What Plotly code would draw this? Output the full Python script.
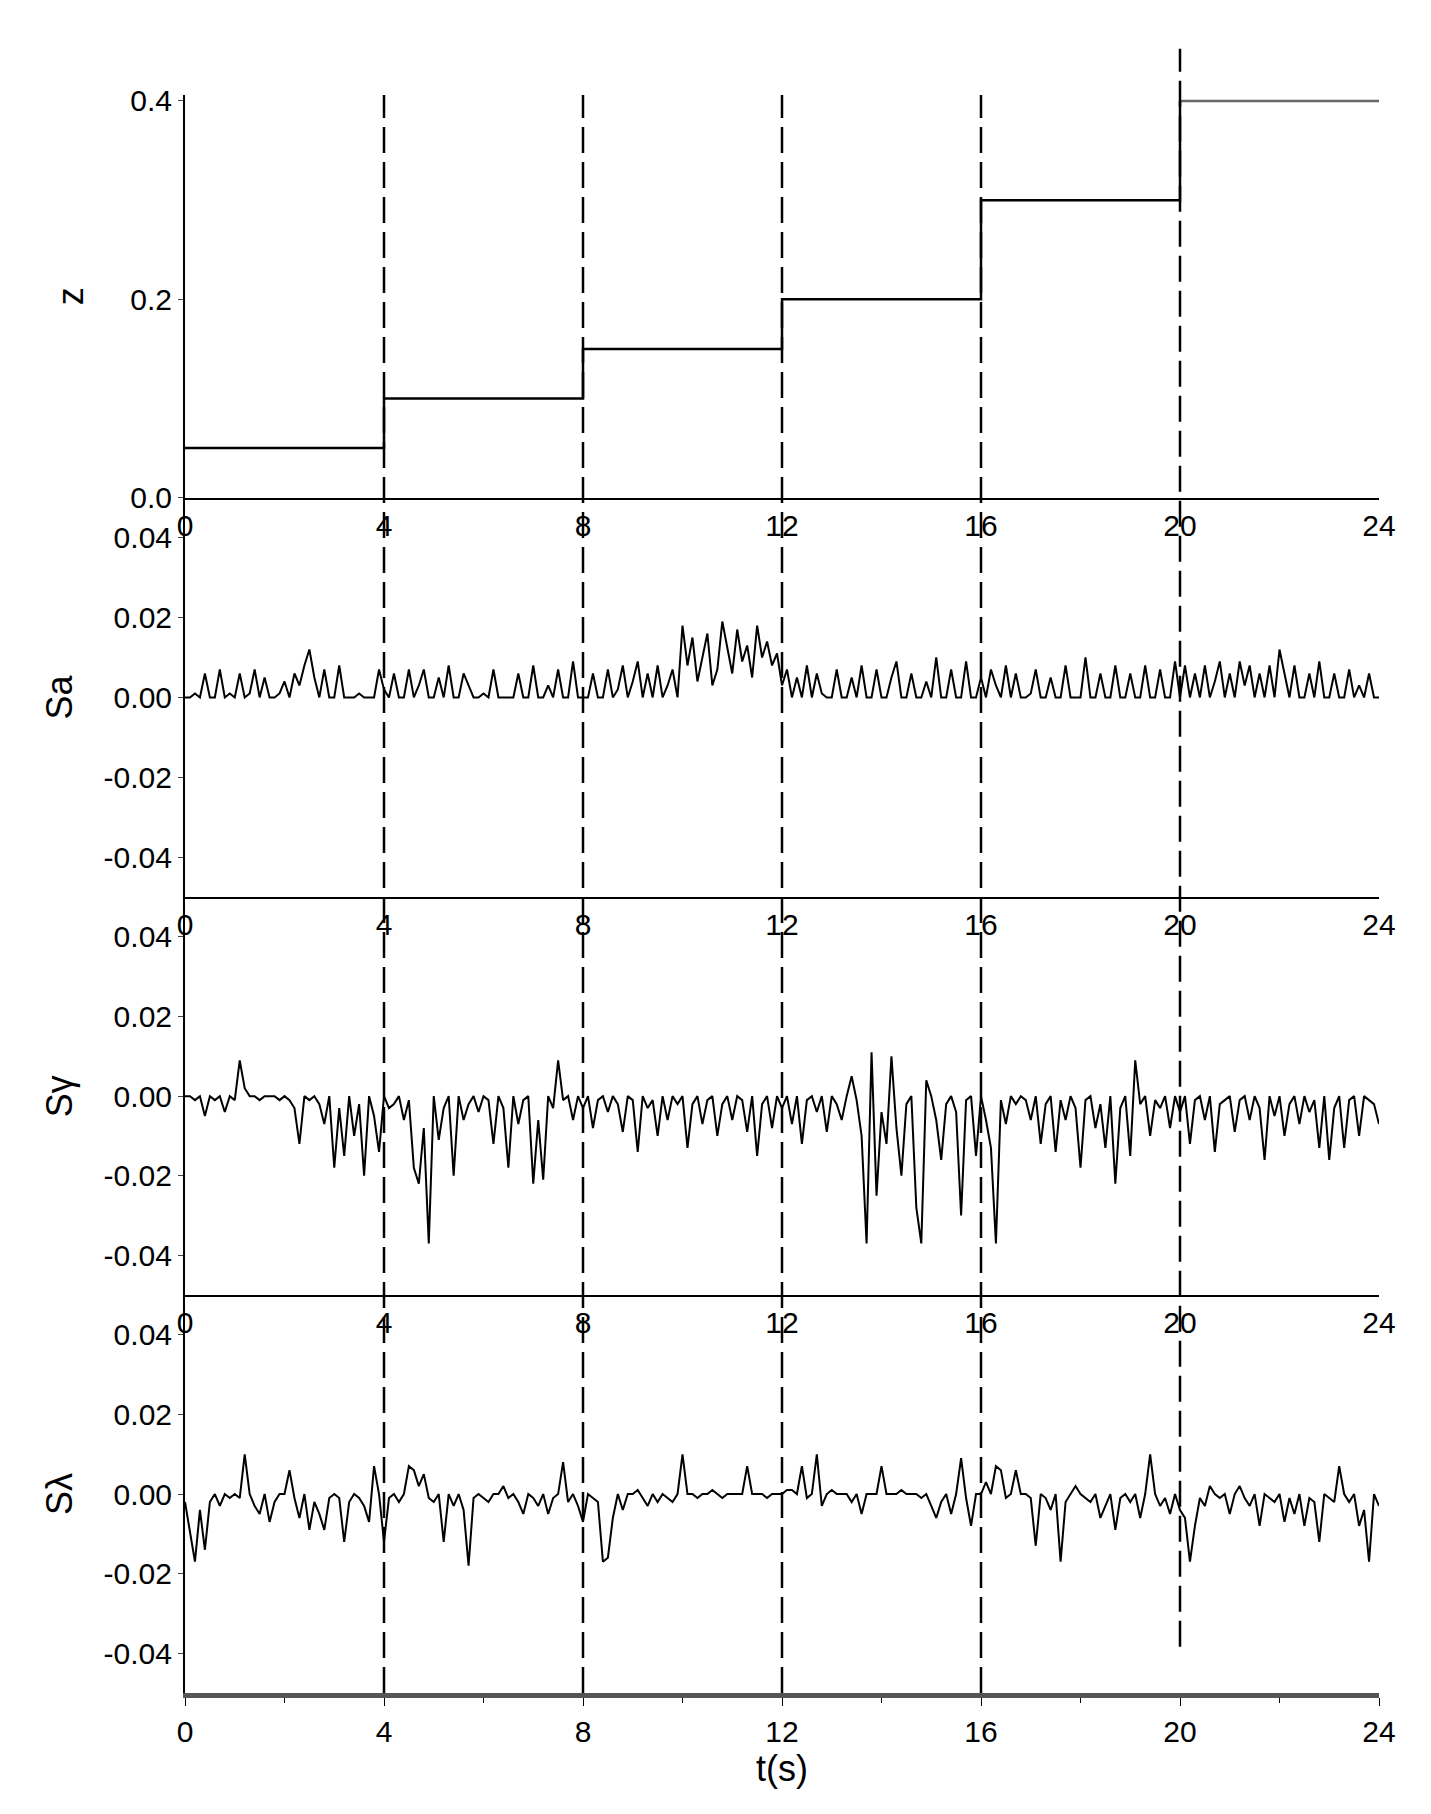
import plotly.graph_objects as go

step_t = [0, 4, 8, 12, 16, 20, 24]
z_vals = [0.05, 0.10, 0.15, 0.20, 0.30, 0.40, 0.40]

sa_milli = [
0,0,1,0,6,0,0,7,0,1, 0,6,0,1,7,0,5,0,0,1, 4,0,6,3,8,12,5,0,7,0, 0,8,0,0,0,1,0,0,0,7,
2,0,6,0,0,7,0,3,7,0, 0,5,0,8,0,0,6,3,0,0, 1,0,7,0,0,0,0,6,0,0, 8,0,0,3,0,7,0,0,9,0,
0,0,6,0,0,7,0,2,8,0, 4,9,0,6,0,8,0,3,7,0, 18,8,15,4,10,16,3,7,19,12, 6,17,9,13,5,18,10,14,8,11,
3,7,0,5,0,8,0,6,1,0, 0,7,0,0,5,0,8,0,0,7, 0,0,5,9,0,0,6,0,0,4, 0,10,0,0,7,0,0,9,0,0,
5,0,7,3,0,8,0,6,0,0, 1,7,0,0,5,0,0,8,0,0, 0,10,0,0,6,0,0,8,0,0, 6,0,0,8,0,0,7,0,0,9,
0,8,0,6,0,8,0,4,9,0, 6,0,9,3,8,0,6,0,8,0, 12,6,0,8,0,0,6,0,9,0, 0,6,0,0,7,0,3,0,6,0, 0]

sg_milli = [
0,0,-1,0,-5,0,-1,0,-4,0, -1,9,2,0,0,-1,0,0,0,-1, 0,-1,-3,-12,0,-1,0,-2,-7,0, -18,-3,-15,0,-10,-2,-20,0,-5,-14,
0,-3,-2,0,-6,-1,-18,-22,-8,-37, 0,-11,-3,0,-20,0,-6,-2,0,-4, 0,-1,-12,0,-3,-18,0,-7,-1,0, -22,-6,-21,0,-3,9,-1,0,-6,0,
-3,0,-8,-1,0,-4,0,-2,-9,0, -1,-14,0,-3,-1,-10,0,-6,0,-2, 0,-13,-2,0,-7,-1,0,-10,-2,0, -6,0,-1,-9,0,-15,-2,0,-8,0,
-3,0,-7,0,-12,-1,0,-4,0,-9, 0,-2,-6,0,5,-1,-10,-37,11,-25, -4,-12,10,-8,-20,-2,0,-28,-37,4, 0,-6,-16,-2,0,-4,-30,-1,0,-15,
0,-6,-13,-37,-1,-7,0,-2,0,-1, -6,0,-12,-2,0,-14,-1,-6,0,-3, -18,-1,0,-8,-2,-13,0,-22,-3,0, -15,9,-2,0,-10,-1,-3,0,-8,0,
-4,0,-12,-1,0,-6,0,-14,-2,-1, 0,-9,-1,0,-6,0,-3,-16,0,-5, 0,-10,-2,0,-7,0,-4,-1,-13,0, -16,-3,0,-13,-1,0,-10,0,-1,-2, -7]

sl_milli = [
-2,-10,-17,-4,-14,-2,0,-3,0,-1, 0,-1,10,0,-3,-5,0,-7,-2,0, 0,6,-1,-6,0,-9,-2,-5,-9,-1, 0,-1,-12,-2,0,-1,-3,-7,7,0,
-12,-1,0,-2,0,7,6,2,5,-1, -2,0,-12,0,-3,0,-4,-18,-1,0, -1,-2,0,0,2,-1,0,-2,-5,0, -1,-3,0,-5,-1,0,8,-2,0,-3,
-7,0,-1,-2,-17,-16,-6,0,-4,0, 0,1,-1,-3,0,-2,0,-1,-2,0, 10,0,0,-1,0,0,1,0,-1,0, 0,0,0,7,0,0,0,-1,0,0,
0,1,1,0,7,-1,0,10,-3,0, 1,0,0,0,-2,0,-5,0,0,0, 7,0,0,0,1,0,0,0,-1,0, -3,-6,-2,0,-5,0,9,-1,-8,0,
0,3,0,7,6,-1,0,6,0,0, -1,-13,0,-1,-4,0,-17,-2,0,2, 0,-1,-2,0,-6,-3,0,-9,-1,0, -2,0,-6,0,10,0,-3,-1,-5,0,
-4,-6,-17,-8,-1,-3,2,0,-1,0, -5,0,2,-1,-3,0,-8,0,-1,-2, 0,-7,-1,-5,0,-8,-1,-2,-12,0, -1,-2,7,0,-2,0,-8,-4,-17,0, -3]

t = [i / 10 for i in range(241)]
y_titles = ["z", "Sa", "Sγ", "Sλ"]
x_ticks = [0, 4, 8, 12, 16, 20, 24]
dash_x = [4, 8, 12, 16, 20]

FONT = "Liberation Sans"
fig = go.Figure()
fig.add_trace(go.Scatter(x=step_t[:-1], y=z_vals[:-1], mode="lines", line=dict(shape="hv", color="black", width=2.5), xaxis="x", yaxis="y"))
fig.add_trace(go.Scatter(x=step_t[-2:], y=z_vals[-2:], mode="lines", line=dict(color="#666", width=2.5), xaxis="x", yaxis="y"))
for k, arr in enumerate([sa_milli, sg_milli, sl_milli]):
    fig.add_trace(go.Scatter(x=t, y=[v * 0.001 for v in arr], mode="lines", line=dict(color="black", width=2), xaxis=f"x{k+2}", yaxis=f"y{k+2}"))

doms = [[0.748, 1.0], [0.498, 0.748], [0.249, 0.498], [0.0, 0.249]]
lay = dict(width=1431, height=1814, paper_bgcolor="white", plot_bgcolor="white", showlegend=False,
           margin=dict(l=177, r=60, t=87, b=129), font=dict(family=FONT, size=30, color="black"))
for i in range(4):
    s = "" if i == 0 else str(i + 1)
    bottom = i == 3
    lay["xaxis" + s] = dict(domain=[0, 1], anchor="y" + s, range=[0, 24], tickvals=x_ticks,
        showgrid=False, zeroline=False, showline=True,
        linecolor="#555" if bottom else "black", linewidth=5 if bottom else 2,
        ticks="outside" if bottom else "", ticklen=8, tickcolor="black",
        minor=dict(tickvals=[2, 6, 10, 14, 18, 22], ticks="outside", ticklen=5) if bottom else None,
        title=dict(text="t(s)", standoff=10) if bottom else None,
        tickfont=dict(size=30))
    if i == 0:
        yax = dict(range=[0, 0.406], tickvals=[0, 0.2, 0.4], ticktext=["0.0", "0.2", "0.4"])
    else:
        yax = dict(range=[-0.05, 0.05], tickvals=[-0.04, -0.02, 0, 0.02, 0.04],
                   ticktext=["-0.04", "-0.02", "0.00", "0.02", "0.04"])
    yax.update(domain=doms[i], anchor="x" + s, showgrid=False, zeroline=False, showline=True,
               linecolor="black", linewidth=2, ticks="outside", ticklen=5,
               title=dict(text=y_titles[i], standoff=36 if i == 0 else 20), tickfont=dict(size=30))
    lay["yaxis" + s] = yax
fig.update_layout(**lay)
for xv in dash_x:
    y0, y1 = (0.029, 1.029) if xv == 20 else (0.0, 1.0)
    fig.add_shape(type="line", xref="x4", yref="paper", x0=xv, x1=xv, y0=y0, y1=y1,
                  line=dict(color="black", width=2.5, dash="26px,9px"))
fig.write_html("out.html")
